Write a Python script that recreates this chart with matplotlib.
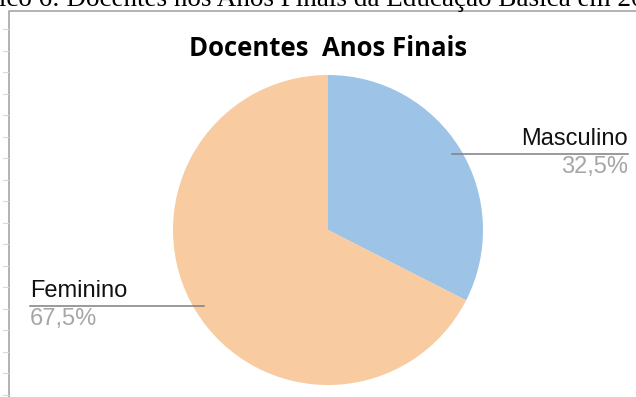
import numpy as np
import matplotlib.pyplot as plt

W, H = 636, 397

labels = ["Masculino", "Feminino"]
shares = [32.5, 67.5]
colors = ["#9DC3E6", "#F8CBA0"]
title = "Docentes  Anos Finais"
caption = "Gráfico 6: Docentes nos Anos Finais da Educação Básica em 20"

fig = plt.figure(figsize=(W / 100, H / 100), dpi=100)
ax = fig.add_axes([0, 0, 1, 1])
ax.set_xlim(0, W)
ax.set_ylim(0, H)
ax.set_aspect("equal")
ax.axis("off")

# clipped document caption above the chart frame
fig.text(-0.08, 1 - 5.5 / H, caption, ha="left", va="baseline",
         fontsize=19.5, family="Liberation Serif")

# chart frame (only the top and left edges show) with faint ticks on the left
ax.plot([8.5, 8.5, W + 5], [-5, H - 10.5, H - 10.5], color="#A6A6A6", lw=1.2,
        clip_on=False)
for ty in np.arange(29, H, 21.5):
    ax.plot([3, 8], [H - ty, H - ty], color="#D9D9D9", lw=0.8)

cx, cy, r = 328, H - 230, 155
wedges, _ = ax.pie(shares, colors=colors, startangle=90, counterclock=False,
                   center=(cx, cy), radius=r, frame=True,
                   wedgeprops=dict(linewidth=0))
ax.set_xlim(0, W)
ax.set_ylim(0, H)
ax.axis("off")

ax.text(328, H - 48, title, ha="center", va="center", fontsize=18.5,
        fontweight="bold", family="Open Sans")

# leader lines and labels
ends = [628, 30]
for w, lab, val, xe in zip(wedges, labels, shares, ends):
    mid = np.deg2rad((w.theta1 + w.theta2) / 2)
    px = cx + 0.94 * r * np.cos(mid)
    py = cy + 0.94 * r * np.sin(mid)
    ax.plot([px, xe], [py, py], color="#7F7F7F", lw=1.1)
    ha = "right" if xe > cx else "left"
    ax.text(xe, py + 4, lab, ha=ha, va="bottom", fontsize=17,
            family="Liberation Sans", color="#111111")
    ax.text(xe, py - 2, f"{val:.1f}%".replace(".", ","), ha=ha, va="top",
            fontsize=17, family="Liberation Sans", color="#A6A6A6")

fig.savefig("out.png", dpi=100)
